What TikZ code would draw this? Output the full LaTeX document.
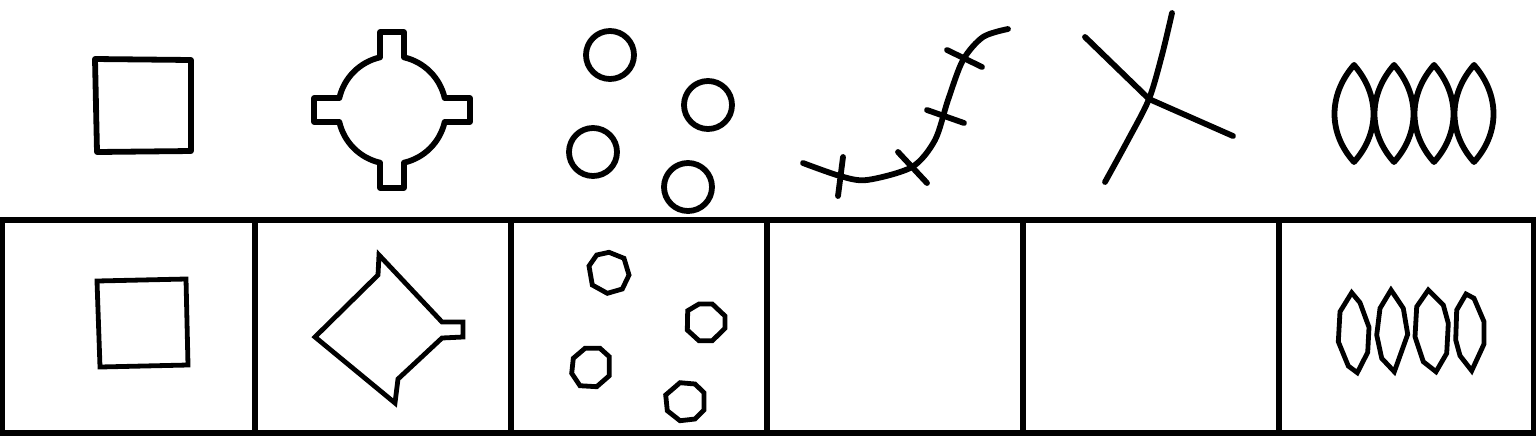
\documentclass[tikz,border=0pt]{standalone}
\usepackage{tikz}
\usetikzlibrary{positioning}

\begin{document}
\begin{tikzpicture}[x=0.5pt,y=-0.5pt,
    sketch/.style={black, line width=2.9pt, line join=round, line cap=round},
    traced/.style={black, line width=2.4pt, line join=miter},
    frame/.style={black, line width=3pt}]
            \useasboundingbox (0,0) rectangle (1536,436);

            % upper row: hand drawn shapes
            \draw[sketch] (95,59) -- (191,60) -- (191,151) -- (97,152) -- cycle;

            \draw[sketch] (444.65,122) arc[start angle=12.84, end angle=77.16, radius=54]
                -- (404,188) -- (380,188) -- (380,162.65)
                arc[start angle=102.84, end angle=167.16, radius=54]
                -- (314,122) -- (314,98) -- (339.35,98)
                arc[start angle=192.84, end angle=257.16, radius=54]
                -- (380,32) -- (404,32) -- (404,57.35)
                arc[start angle=282.84, end angle=347.16, radius=54]
                -- (470,98) -- (470,122) -- cycle;

            \foreach \cx/\cy in {610/55, 708/105, 593/152, 688/187}
                \draw[sketch] (\cx,\cy) circle (24);

            \draw[sketch] plot[smooth] coordinates {(803,163) (840,176) (867,180) (912,167)
                (935,140) (948,100) (963,60) (983,37) (1008,29)};
            \draw[sketch] (843,157) -- (838,196);
            \draw[sketch] (898,152) -- (927,183);
            \draw[sketch] (927,110) -- (964,123);
            \draw[sketch] (947,50) -- (982,67);

            \draw[sketch] plot[smooth] coordinates {(1172,13) (1162,55) (1149,99) (1128,140) (1105,182)};
            \draw[sketch] (1085,37) -- (1149,99) -- (1233,136);

            \foreach \lx in {1354,1394,1434,1474}
                \draw[sketch] (\lx,65) .. controls (\lx-26,95) and (\lx-26,133) .. (\lx,162)
                    .. controls (\lx+26,133) and (\lx+26,95) .. (\lx,65);

            % lower row: traced outlines in cells
            \draw[frame] (2,220) rectangle (1534,433);
            \foreach \x in {255,511,767,1023,1279}
                \draw[frame] (\x,220) -- (\x,433);

            \draw[traced] (97,281) -- (186,279) -- (188,365) -- (100,367) -- cycle;

            \draw[traced] (315,337) -- (378,275) -- (379,255) -- (442,322) -- (463,322)
                -- (463,337) -- (442,338) -- (398,379) -- (395,403) -- cycle;

            \draw[traced] (596.7,255) -- (609,252.3) -- (624,258.3) -- (629,275) -- (622.3,289)
                -- (607.3,293.3) -- (592.3,285) -- (589,266) -- cycle;
            \draw[traced] (687.7,310.7) -- (699,304) -- (712.3,304) -- (725,316) -- (725,328.3)
                -- (712.3,340.7) -- (699,340.7) -- (687.3,330) -- cycle;
            \draw[traced] (585,348.3) -- (600,348.3) -- (609.3,356.7) -- (609.3,375.7)
                -- (596.7,386.7) -- (580,385.7) -- (571.7,373.3) -- (573.3,358.3) -- cycle;
            \draw[traced] (680,382.7) -- (695,384) -- (704,392.7) -- (704,410) -- (695,419)
                -- (680,420.7) -- (667.3,410.7) -- (665.7,395) -- cycle;

            \draw[traced] (1351.7,292.7) -- (1360,302.7) -- (1369,327.3) -- (1367.7,352.3)
                -- (1357.3,372.7) -- (1348.3,366) -- (1338.3,341.7) -- (1340,311.7) -- cycle;
            \draw[traced] (1391,290) -- (1403.3,308.3) -- (1407.7,334.3) -- (1394.3,371.7)
                -- (1381.7,358.3) -- (1376.7,335) -- (1380,308.3) -- cycle;
            \draw[traced] (1428.3,290) -- (1443.3,305) -- (1448.3,323.3) -- (1446.7,353.3)
                -- (1436,371.7) -- (1423.3,361.7) -- (1415,336.7) -- (1416.7,306.7) -- cycle;
            \draw[traced] (1466,294) -- (1474,298.3) -- (1484,321.7) -- (1484,344)
                -- (1471.7,370.7) -- (1460,355.7) -- (1455.7,340) -- (1456.7,310) -- cycle;
            \end{tikzpicture}
\end{document}
